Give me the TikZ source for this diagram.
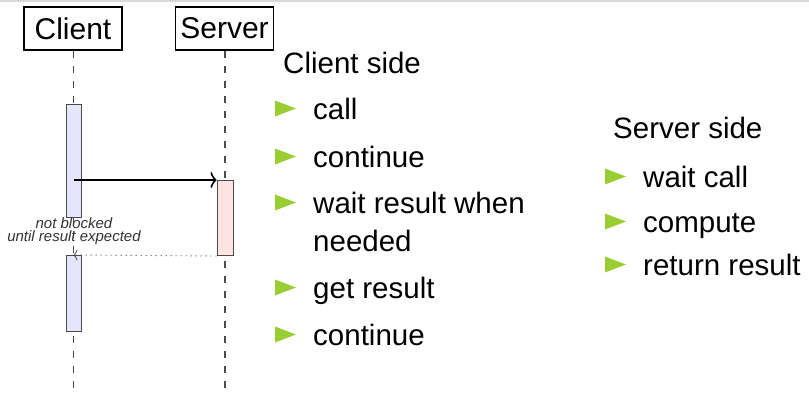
\documentclass[tikz,border=0pt]{standalone}
\usepackage{fontspec}
\setmainfont{Liberation Sans}
\usetikzlibrary{arrows.meta}

\definecolor{bulletgreen}{HTML}{9ACD32}
\definecolor{clientfill}{HTML}{E6E6FA}
\definecolor{serverfill}{HTML}{FFE4E1}
\definecolor{lineGray}{HTML}{4A4A4A}

\tikzset{
  actor/.style={draw=black, line width=1.2pt, fill=white, minimum width=98pt, minimum height=43pt,
    inner sep=0pt, font=\fontsize{30}{35}\selectfont},
  lifeline/.style={draw=lineGray, line width=1.2pt, dash pattern=on 7pt off 8pt},
  activation/.style={draw=lineGray, line width=1pt, minimum width=15pt, inner sep=0pt},
  callarrow/.style={draw=black, line width=1.8pt, -{Classical TikZ Rightarrow[length=6pt,width=16pt,line width=1.6pt]}},
  retarrow/.style={draw=lineGray, line width=0.9pt, dash pattern=on 1pt off 4pt,
    -{Classical TikZ Rightarrow[length=4pt,width=11pt,line width=0.8pt,sep=0pt]}},
  note/.style={inner sep=0pt, anchor=base, text=black!80, font=\fontsize{15}{18}\selectfont\itshape},
  heading/.style={inner sep=0pt, anchor=base west, font=\fontsize{29.5}{35}\selectfont},
  entry/.style={inner sep=0pt, anchor=base west, font=\fontsize{29.5}{35}\selectfont},
  bulletmark/.style={fill=bulletgreen, draw=none},
}

% bullet triangle: left x, baseline y of the entry it marks
\newcommand\itemmark[2]{\path[bulletmark] (#1,#2-18.5) -- ++(21,8) -- ++(-21,8) -- cycle;}

\begin{document}
\begin{tikzpicture}[x=1pt, y=-1pt]
\useasboundingbox (0,0) rectangle (809,392);
\draw[black!15, line width=1.6pt] (0,0.8) -- (809,0.8);

% actors and lifelines
\node[actor] (client) at (73,28.5) {Client};
\node[actor] (server) at (224.5,28.5) {Server};
\coordinate (clientEnd) at (73.5,392);
\coordinate (serverEnd) at (225,392);
\draw[lifeline] (client.south -| clientEnd) -- (clientEnd);
\draw[lifeline] (server.south -| serverEnd) -- (serverEnd);

% activation bars
\node[activation, fill=clientfill, minimum height=113pt, anchor=north] (ca1) at (73.5,104) {};
\node[activation, fill=clientfill, minimum height=76pt, anchor=north] (ca2) at (73.5,255) {};
\node[activation, fill=serverfill, minimum height=75pt, minimum width=16pt, anchor=north] (sa) at (225,180) {};

% messages
\draw[callarrow] (ca1.center |- sa.north west) -- (sa.north west);
\draw[retarrow] (sa.south west) -- (ca2.north);

\node[note] (nb1) at (74,228) {not blocked};
\node[note] (nb2) at (74,241) {until result expected};

% client-side list
\node[heading] (chead) at (283,73) {Client side};
\node[entry] (c1) at (313,119) {call};
\node[entry] (c2) at (313,167) {continue};
\node[entry] (c3) at (313,213) {wait result when};
\node[entry] (c3b) at (313,251.5) {needed};
\node[entry] (c4) at (313,298) {get result};
\node[entry] (c5) at (313,345) {continue};
\itemmark{275}{119}
\itemmark{275}{167}
\itemmark{275}{213}
\itemmark{275}{298}
\itemmark{275}{345}

% server-side list
\node[heading] (shead) at (613,138) {Server side};
\node[entry] (s1) at (643,187) {wait call};
\node[entry] (s2) at (643,232) {compute};
\node[entry] (s3) at (643,275) {return result};
\itemmark{605}{187}
\itemmark{605}{232}
\itemmark{605}{275}
\end{tikzpicture}
\end{document}
